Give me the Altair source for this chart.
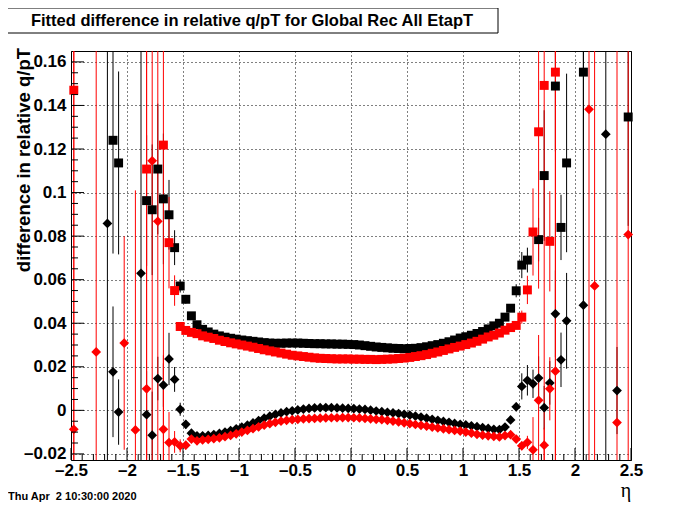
import altair as alt
import pandas as pd

# ---------------- axis / bin definitions ----------------
ETA_DOMAIN = [-2.5, 2.5]
Y_DOMAIN = [-0.0228, 0.1650]
BIN0, BINW = -2.475, 0.05           # 100 eta bins from -2.5 to 2.5

X_TICKS = [-2.5, -2, -1.5, -1, -0.5, 0, 0.5, 1, 1.5, 2, 2.5]
X_MINOR = [-2.4, -2.3, -2.2, -2.1, -1.9, -1.8, -1.7, -1.6, -1.4, -1.3, -1.2, -1.1,
           -0.9, -0.8, -0.7, -0.6, -0.4, -0.3, -0.2, -0.1, 0.1, 0.2, 0.3, 0.4,
           0.6, 0.7, 0.8, 0.9, 1.1, 1.2, 1.3, 1.4, 1.6, 1.7, 1.8, 1.9,
           2.1, 2.2, 2.3, 2.4]
Y_TICKS = [-0.02, 0, 0.02, 0.04, 0.06, 0.08, 0.1, 0.12, 0.14, 0.16]
Y_MINOR = [-0.015, -0.01, -0.005, 0.005, 0.01, 0.015, 0.025, 0.03, 0.035,
           0.045, 0.05, 0.055, 0.065, 0.07, 0.075, 0.085, 0.09, 0.095,
           0.105, 0.11, 0.115, 0.125, 0.13, 0.135, 0.145, 0.15, 0.155]

TITLE = "Fitted difference in relative q/pT for Global Rec All EtapT"
Y_TITLE = "difference in relative q/pT"
X_TITLE = "\u03b7"
DATE = "Thu Apr\u00a0 2 10:30:00 2020"

SMALL = 0.0005   # error bars hidden under the markers
FULL = 1.0       # error bars running off the frame

# ---------------- black squares ----------------
BS_BIN = [7, 8, 13, 14, 15, 16, 17, 18, 19, 20] + list(range(21, 82)) + [83, 84, 86, 87, 88, 91, 99]
BS_VAL = [0.124, 0.1136, 0.0963, 0.0921, 0.1108, 0.0971, 0.0898, 0.0747, 0.0571, 0.051,
          0.0434, 0.0393, 0.0372, 0.0360, 0.0350, 0.0342, 0.0336, 0.0331, 0.0327, 0.0323,
          0.0320, 0.0317, 0.0314, 0.0311, 0.0309, 0.0308, 0.0308, 0.0309, 0.0309, 0.0309,
          0.0308, 0.0307, 0.0306, 0.0306, 0.0305, 0.0305, 0.0304, 0.0304, 0.0303, 0.0302,
          0.0300, 0.0297, 0.0294, 0.0291, 0.0289, 0.0287, 0.0285, 0.0284, 0.0283, 0.0284,
          0.0285, 0.0288, 0.0292, 0.0297, 0.0302, 0.0308, 0.0315, 0.0323, 0.0332, 0.0338,
          0.0345, 0.0353, 0.0362, 0.0374, 0.0388, 0.0400, 0.0428, 0.0469, 0.0549, 0.0667,
          0.0690,
          0.0784, 0.1078, 0.1489, 0.0840, 0.1136, 0.1553, 0.1347]
BS_ERR = ([0.052, 0.042, 0.03, 0.03, 0.03, 0.03, 0.016, 0.008, 0.003, 0.002]
          + [SMALL] * 58 + [0.003, 0.006, 0.0057]
          + [0.01, 0.03, 0.03, 0.015, 0.041, FULL, 0.05])

# ---------------- red squares ----------------
RS_BIN = [0, 13, 16, 17, 18, 19, 20] + list(range(21, 87))
RS_VAL = [0.147, 0.1108, 0.1218, 0.077, 0.055, 0.0385, 0.0367,
          0.0358, 0.0352, 0.0342, 0.0336, 0.0330, 0.0322, 0.0316, 0.0310, 0.0305, 0.0300,
          0.0295, 0.0290, 0.0284, 0.0278, 0.0273, 0.0268, 0.0263, 0.0258, 0.0253, 0.0250,
          0.0247, 0.0244, 0.0241, 0.0239, 0.0238, 0.0237, 0.0236, 0.0236, 0.0236, 0.0235,
          0.0235, 0.0234, 0.0234, 0.0233, 0.0234, 0.0235, 0.0236, 0.0238, 0.0240, 0.0243,
          0.0247, 0.0251, 0.0256, 0.0262, 0.0268, 0.0275, 0.0282, 0.0289, 0.0295, 0.0302,
          0.0309, 0.0317, 0.0327, 0.0337, 0.0345, 0.0355, 0.0368, 0.0380, 0.0390, 0.0428,
          0.0553, 0.0819, 0.1279, 0.1492, 0.0776, 0.1553]
RS_ERR = ([FULL, FULL, FULL, 0.021, 0.007, 0.002, 0.002]
          + [SMALL] * 59 + [0.003, 0.0065, 0.02, 0.072, FULL, 0.023, FULL])

# ---------------- black diamonds ----------------
BD_BIN = [6, 7, 8, 12, 13, 14, 15, 16, 17, 18, 19, 20] + list(range(21, 89)) + [91, 95, 97]
BD_VAL = [0.0858, 0.0177, -0.0008, 0.0629, -0.0020, -0.0114, 0.0146, 0.0116, 0.0236, 0.0142,
          0.0005, -0.0064,
          -0.0105, -0.0117, -0.0117, -0.0115, -0.0111, -0.0106, -0.0100, -0.0093, -0.0085, -0.0077,
          -0.0068, -0.0058, -0.0047, -0.0036, -0.0027, -0.0019, -0.0012, -0.0006, -0.0002, 0.0002,
          0.0006, 0.0009, 0.0011, 0.0012, 0.0013, 0.0012, 0.0011, 0.0010, 0.0009, 0.0008,
          0.0006, 0.0004, 0.0001, -0.0003, -0.0006, -0.0009, -0.0012, -0.0015, -0.0018, -0.0022,
          -0.0026, -0.0031, -0.0036, -0.0041, -0.0046, -0.0051, -0.0055, -0.0060, -0.0064, -0.0067,
          -0.0071, -0.0075, -0.0079, -0.0083, -0.0087, -0.0088, -0.0077, -0.0044, 0.0016, 0.0110,
          0.0138, 0.0122, 0.0148, 0.0012, 0.0126, 0.0443, 0.0232, 0.0411,
          0.0483, 0.1268, 0.0091]
BD_ERR = ([FULL, 0.03, 0.015, FULL, 0.02, 0.02, 0.01, 0.01, 0.012, 0.0057, 0.003, 0.002]
          + [SMALL] * 58
          + [0.002, 0.006, 0.007, 0.0065, 0.01, 0.01, 0.01, 0.02, 0.0125, 0.022]
          + [FULL, FULL, 0.02])

# ---------------- red diamonds ----------------
RD_BIN = [0, 4, 9, 11, 13, 14, 15, 16, 17, 18, 19, 20] + list(range(21, 87)) + [92, 93, 97, 99]
RD_VAL = [-0.0087, 0.0268, 0.0309, -0.0090, 0.0099, 0.1146, 0.0868, -0.0087, -0.0148, -0.0145,
          -0.0163, -0.0160,
          -0.0132, -0.0140, -0.0136, -0.0133, -0.0130, -0.0126, -0.0121, -0.0115, -0.0108, -0.0100,
          -0.0092, -0.0084, -0.0076, -0.0068, -0.0061, -0.0055, -0.0050, -0.0046, -0.0043, -0.0041,
          -0.0039, -0.0038, -0.0037, -0.0036, -0.0035, -0.0034, -0.0034, -0.0033, -0.0033, -0.0034,
          -0.0035, -0.0037, -0.0039, -0.0041, -0.0043, -0.0046, -0.0049, -0.0053, -0.0057, -0.0061,
          -0.0065, -0.0069, -0.0073, -0.0077, -0.0081, -0.0085, -0.0089, -0.0092, -0.0095, -0.0100,
          -0.0105, -0.0110, -0.0114, -0.0117, -0.0120, -0.0122, -0.0116, -0.0112, -0.0132, -0.0163,
          -0.0147, -0.0181, 0.0046, -0.0160, 0.0099, 0.0180,
          0.1382, 0.0571, -0.0056, 0.0807]
RD_ERR = ([FULL, FULL, 0.049, 0.11, FULL, FULL, FULL, 0.034, 0.014, 0.005, 0.003, 0.002]
          + [SMALL] * 59 + [0.002, 0.003, 0.015, 0.03, 0.008, 0.0145, FULL]
          + [FULL, FULL, FULL, FULL])

# ---------------- layout ----------------
W, H = 560, 409
FONT = "Liberation Sans"
BLACK, RED = "#000000", "#ff0000"


def frame(bins, vals, errs):
    eta = [round(BIN0 + BINW * b, 4) for b in bins]
    return pd.DataFrame({
        "eta": eta, "val": vals,
        "lo": [v - e for v, e in zip(vals, errs)],
        "hi": [v + e for v, e in zip(vals, errs)],
    })


xscale = alt.Scale(domain=ETA_DOMAIN, nice=False, zero=False)
yscale = alt.Scale(domain=Y_DOMAIN, nice=False, zero=False)
common_axis = dict(title=None, grid=True, ticks=False, tickSize=0, domain=False,
                   labelFont=FONT, labelFontWeight="bold", labelFontSize=17,
                   labelColor="black", gridColor="black", gridDash=[1, 3],
                   gridOpacity=1, gridWidth=1, labelOverlap=False, labelFlush=False,
                   labelExpr="replace(datum.value + '', '-', '\u2013')")
xaxis = alt.Axis(values=X_TICKS, labelPadding=2, **common_axis)
yaxis = alt.Axis(values=Y_TICKS, labelPadding=5, **common_axis)


def X(f):
    return alt.X(f, type="quantitative", scale=xscale, axis=xaxis)


def Y(f):
    return alt.Y(f, type="quantitative", scale=yscale, axis=yaxis)


bs, rs, bd, rd = (frame(BS_BIN, BS_VAL, BS_ERR), frame(RS_BIN, RS_VAL, RS_ERR),
                  frame(BD_BIN, BD_VAL, BD_ERR), frame(RD_BIN, RD_VAL, RD_ERR))


def errs(df, color):
    return alt.Chart(df).mark_rule(color=color, strokeWidth=1, clip=True).encode(
        x=X("eta"), y=Y("lo"), y2="hi")


def pts(df, color, shape, size):
    return alt.Chart(df).mark_point(shape=shape, filled=True, size=size, color=color,
                                    opacity=1, strokeWidth=0).encode(x=X("eta"), y=Y("val"))


xt = pd.DataFrame({"t": X_TICKS})
xm = pd.DataFrame({"t": X_MINOR})
yt = pd.DataFrame({"t": Y_TICKS})
ym = pd.DataFrame({"t": Y_MINOR})

tick_layers = [
    alt.Chart(xt).mark_rule(color="black", strokeWidth=1).encode(
        x=X("t"), y=alt.value(H), y2=alt.value(H - 12)),
    alt.Chart(xm).mark_rule(color="black", strokeWidth=1).encode(
        x=X("t"), y=alt.value(H), y2=alt.value(H - 6)),
    alt.Chart(yt).mark_rule(color="black", strokeWidth=1).encode(
        y=Y("t"), x=alt.value(0), x2=alt.value(13)),
    alt.Chart(ym).mark_rule(color="black", strokeWidth=1).encode(
        y=Y("t"), x=alt.value(0), x2=alt.value(7)),
]

one = pd.DataFrame({"a": [0]})
title_box = alt.Chart(one).mark_rect(fill="white", stroke="black", strokeWidth=1).encode(
    x=alt.value(-64), x2=alt.value(427), y=alt.value(-43), y2=alt.value(-18))
title_txt = alt.Chart(one).mark_text(text=TITLE, font=FONT, fontWeight="bold", fontSize=16.5,
                                     align="center", baseline="middle", color="black").encode(
    x=alt.value(181), y=alt.value(-30))
ytitle = alt.Chart(one).mark_text(text=Y_TITLE, font=FONT, fontWeight="bold", fontSize=18.5,
                                  align="right", baseline="middle", angle=270, color="black").encode(
    x=alt.value(-47), y=alt.value(-3))
xtitle = alt.Chart(one).mark_text(text=X_TITLE, font="Liberation Serif", fontSize=20,
                                  align="center", baseline="alphabetic", color="black").encode(
    x=alt.value(555), y=alt.value(446))
date = alt.Chart(one).mark_text(text=DATE, font=FONT, fontWeight="bold", fontSize=11,
                                align="left", baseline="alphabetic", color="black").encode(
    x=alt.value(-63), y=alt.value(449))

chart = alt.layer(
    errs(bs, BLACK), errs(bd, BLACK), errs(rs, RED), errs(rd, RED),
    pts(bs, BLACK, "square", 80), pts(bd, BLACK, "diamond", 95),
    pts(rs, RED, "square", 80), pts(rd, RED, "diamond", 95),
    *tick_layers,
    title_box, title_txt, ytitle, xtitle, date,
).properties(
    width=W, height=H,
    autosize=alt.AutoSizeParams(type="none"),
    padding={"left": 63, "top": 43, "right": 53, "bottom": 44},
    background="white",
).configure_view(stroke="black", strokeWidth=1)

chart.save("out.html", embed_options={"renderer": "svg", "actions": False})
